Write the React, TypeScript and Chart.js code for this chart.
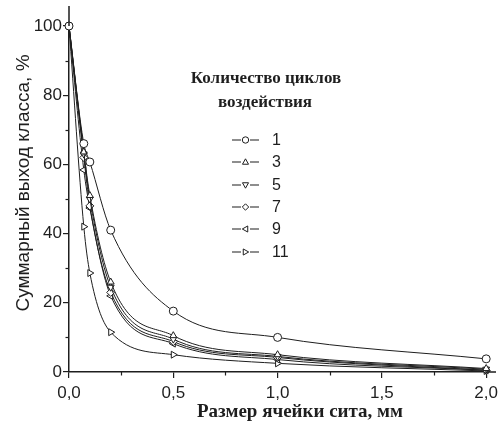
import React, { useEffect, useRef } from "react";
import { Chart, registerables } from "chart.js";

Chart.register(...registerables);

const sieveSizes = [0, 0.071, 0.1, 0.2, 0.5, 1.0, 2.0];
const cycles = ["1", "3", "5", "7", "9", "11"];
const series1 = [100, 66, 60.7, 41, 17.6, 10, 3.8];
const series3 = [100, 63.6, 51, 26, 10.5, 5, 1];
const series5 = [100, 63, 50, 24.5, 9.5, 4.5, 0.8];
const series7 = [100, 62, 48, 23, 8.8, 4.2, 0.5];
const series9 = [100, 58.4, 47.4, 22, 8.2, 3.6, 0.5];
const series11 = [100, 42, 28.6, 11.5, 5, 2.5, 0.3];
const allSeries = [series1, series3, series5, series7, series9, series11];
const xTicks = [0, 0.5, 1.0, 1.5, 2.0];
const yTicks = [0, 20, 40, 60, 80, 100];
const xMinor = [0.25, 0.75, 1.25, 1.75];
const yMinor = [10, 30, 50, 70, 90];
const xTitle = "Размер ячейки сита, мм";
const yTitle = "Суммарный выход класса, %";
const legendTitle = ["Количество циклов", "воздействия"];

const markerStyles = [
  { style: "circle", rot: 0 },
  { style: "triangle", rot: 0 },
  { style: "triangle", rot: 180 },
  { style: "rectRot", rot: 0 },
  { style: "triangle", rot: -90 },
  { style: "triangle", rot: 90 },
];

const INK = "#1e1e1e";

function drawMarker(ctx: CanvasRenderingContext2D, kind: number, x: number, y: number, r: number) {
  ctx.save();
  ctx.translate(x, y);
  ctx.beginPath();
  const m = markerStyles[kind];
  if (m.style === "circle") {
    ctx.arc(0, 0, r, 0, Math.PI * 2);
  } else if (m.style === "rectRot") {
    ctx.moveTo(0, -r);
    ctx.lineTo(r, 0);
    ctx.lineTo(0, r);
    ctx.lineTo(-r, 0);
    ctx.closePath();
  } else {
    ctx.rotate((m.rot * Math.PI) / 180);
    ctx.moveTo(0, -r);
    ctx.lineTo(r * 0.95, r * 0.7);
    ctx.lineTo(-r * 0.95, r * 0.7);
    ctx.closePath();
  }
  ctx.fillStyle = "#fff";
  ctx.fill();
  ctx.strokeStyle = INK;
  ctx.lineWidth = 1;
  ctx.stroke();
  ctx.restore();
}

const decorPlugin = {
  id: "decor",
  afterDraw(chart: any) {
    const ctx: CanvasRenderingContext2D = chart.ctx;
    const xs = chart.scales.x;
    const ys = chart.scales.y;
    ctx.save();
    ctx.strokeStyle = INK;
    ctx.lineWidth = 1.5;
    ctx.beginPath();
    ctx.moveTo(xs.left, ys.top);
    ctx.lineTo(xs.left, 6);
    ctx.moveTo(xs.right, ys.bottom);
    ctx.lineTo(496, ys.bottom);
    ctx.stroke();
    ctx.lineWidth = 1.2;
    xMinor.forEach((v) => {
      const px = Math.round(xs.getPixelForValue(v)) + 0.5;
      ctx.beginPath();
      ctx.moveTo(px, ys.bottom);
      ctx.lineTo(px, ys.bottom + 3.5);
      ctx.stroke();
    });
    yMinor.forEach((v) => {
      const py = Math.round(ys.getPixelForValue(v)) + 0.5;
      ctx.beginPath();
      ctx.moveTo(xs.left, py);
      ctx.lineTo(xs.left - 3.5, py);
      ctx.stroke();
    });
    ctx.fillStyle = INK;
    ctx.textAlign = "center";
    ctx.textBaseline = "middle";
    ctx.font = "bold 19px 'Liberation Serif'";
    ctx.fillText(xTitle, 300, 412);
    ctx.save();
    ctx.translate(24, 183);
    ctx.rotate(-Math.PI / 2);
    ctx.font = "19px 'Liberation Sans'";
    ctx.fillText(yTitle, 0, 0);
    ctx.restore();
    ctx.font = "bold 17px 'Liberation Serif'";
    ctx.fillText(legendTitle[0], 266, 79);
    ctx.fillText(legendTitle[1], 265, 103);
    const rows = [140, 162, 185, 207, 229, 252];
    ctx.font = "16px 'Liberation Sans'";
    ctx.textAlign = "left";
    rows.forEach((ry, i) => {
      ctx.lineWidth = 1.2;
      ctx.beginPath();
      ctx.moveTo(232, ry);
      ctx.lineTo(241, ry);
      ctx.moveTo(250, ry);
      ctx.lineTo(259, ry);
      ctx.stroke();
      drawMarker(ctx, i, 245.5, ry, 3.2);
      ctx.fillStyle = INK;
      ctx.fillText(cycles[i], 272, ry + 1);
    });
    ctx.restore();
  },
};

export default function App() {
  const ref = useRef<HTMLCanvasElement | null>(null);
  useEffect(() => {
    if (!ref.current) return;
    const datasets = allSeries.map((vals, i) => ({
      label: cycles[i],
      data: vals.map((v, j) => ({ x: sieveSizes[j], y: v })),
      showLine: true,
      clip: false,
      cubicInterpolationMode: "monotone" as const,
      borderColor: INK,
      borderWidth: 1,
      pointStyle: markerStyles[i].style,
      rotation: markerStyles[i].rot,
      pointRadius: 4,
      pointBackgroundColor: "#fff",
      pointBorderColor: INK,
      pointBorderWidth: 1,
    }));
    const chart = new Chart(ref.current, {
      type: "scatter",
      data: { datasets: datasets as any },
      options: {
        animation: false,
        responsive: false,
        layout: { padding: { top: 26, right: 16, left: 0, bottom: 0 } },
        plugins: { legend: { display: false }, tooltip: { enabled: false } },
        scales: {
          x: {
            type: "linear",
            min: 0,
            max: 2,
            afterBuildTicks: (s: any) => {
              s.ticks = xTicks.map((v) => ({ value: v }));
            },
            afterFit: (s: any) => {
              s.height = 54;
            },
            ticks: {
              color: INK,
              padding: 5,
              maxRotation: 0,
              font: { family: "'Liberation Sans'", size: 17 },
              callback: (v: any) => Number(v).toFixed(1).replace(".", ","),
            },
            grid: { drawOnChartArea: false, tickLength: 6, color: INK, lineWidth: 1.2 },
            border: { color: INK, width: 1.5 },
          },
          y: {
            type: "linear",
            min: 0,
            max: 100,
            afterBuildTicks: (s: any) => {
              s.ticks = yTicks.map((v) => ({ value: v }));
            },
            afterFit: (s: any) => {
              s.width = 69;
            },
            ticks: {
              color: INK,
              padding: 1,
              font: { family: "'Liberation Sans'", size: 17 },
            },
            grid: { drawOnChartArea: false, tickLength: 6, color: INK, lineWidth: 1.2 },
            border: { color: INK, width: 1.5 },
          },
        },
      },
      plugins: [decorPlugin],
    });
    return () => chart.destroy();
  }, []);
  return (
    <div style={{ position: "fixed", left: 0, top: 0, width: 503, height: 426, background: "#fff" }}>
      <canvas ref={ref} width={503} height={426} style={{ width: 503, height: 426 }} />
    </div>
  );
}
